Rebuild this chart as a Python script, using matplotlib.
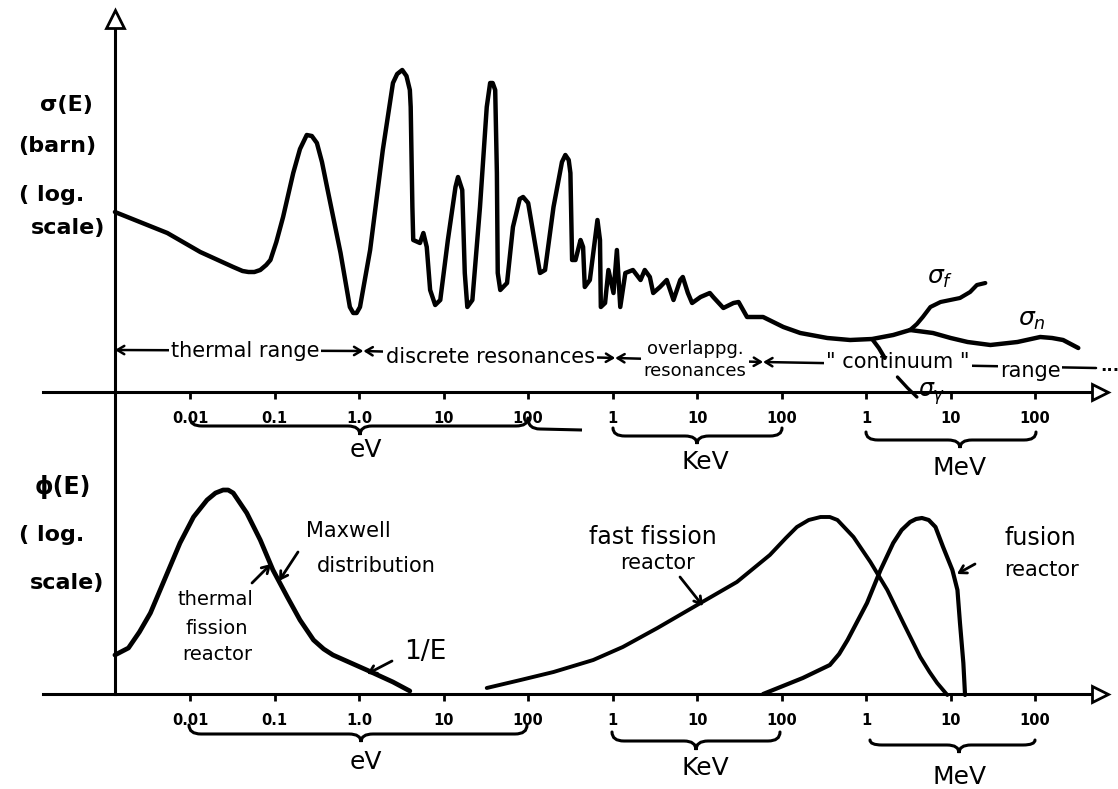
import numpy as np
import matplotlib
matplotlib.use("Agg")
import matplotlib.pyplot as plt
import matplotlib.transforms as mtransforms
from matplotlib.path import Path
from matplotlib.patches import PathPatch

# ---- values ----
# x: log10(E / eV), y: height above the energy axis (arbitrary log units)
sigma_total = [(-2.89, 180), (-2.27, 159), (-1.88, 140), (-1.49, 125), (-1.38, 121), (-1.31, 120),
               (-1.24, 120), (-1.17, 122), (-1.10, 127), (-1.05, 132), (-0.98, 150), (-0.90, 175),
               (-0.78, 219), (-0.70, 243), (-0.62, 257), (-0.56, 256), (-0.50, 249), (-0.44, 230),
               (-0.38, 205), (-0.22, 139), (-0.11, 85), (-0.07, 79), (-0.03, 79), (0.01, 85),
               (0.13, 142), (0.28, 242), (0.40, 309), (0.45, 318), (0.51, 322), (0.56, 316),
               (0.60, 302), (0.61, 285), (0.63, 185), (0.64, 152), (0.72, 149), (0.76, 159),
               (0.80, 145), (0.84, 102), (0.90, 87), (0.96, 92), (1.05, 152), (1.14, 205),
               (1.17, 215), (1.22, 202), (1.25, 119), (1.28, 85), (1.34, 92), (1.43, 185),
               (1.51, 285), (1.55, 309), (1.58, 309), (1.61, 302), (1.63, 219), (1.64, 119),
               (1.67, 102), (1.75, 109), (1.82, 165), (1.90, 193), (1.94, 195), (2.00, 189),
               (2.14, 119), (2.20, 122), (2.30, 185), (2.40, 230), (2.44, 237), (2.48, 232),
               (2.50, 219), (2.52, 132), (2.56, 132), (2.62, 152), (2.65, 145), (2.67, 105),
               (2.73, 112), (2.82, 172), (2.85, 152), (2.86, 85), (2.91, 89), (2.95, 122),
               (3.01, 99), (3.05, 142), (3.09, 85), (3.15, 119), (3.24, 122), (3.33, 112),
               (3.38, 122), (3.44, 115), (3.48, 99), (3.56, 105), (3.64, 112), (3.72, 92),
               (3.80, 112), (3.83, 115), (3.89, 99), (3.94, 89), (4.04, 95), (4.15, 99),
               (4.19, 95), (4.31, 84), (4.43, 89), (4.49, 90), (4.59, 75), (4.78, 75),
               (5.02, 65), (5.22, 59), (5.54, 54), (5.81, 52), (6.07, 53), (6.32, 57), (6.52, 62)]
sigma_n = [(6.52, 62), (6.79, 59), (7.00, 54), (7.20, 50), (7.47, 47), (7.79, 50), (8.06, 55),
           (8.20, 54), (8.33, 52), (8.51, 44)]
sigma_f = [(6.52, 62), (6.60, 68), (6.67, 75), (6.76, 85), (6.88, 90), (7.11, 94), (7.23, 100),
           (7.31, 107), (7.41, 109)]
sigma_g = [(6.07, 53), (6.15, 44), (6.22, 34)]
sigma_g_tail = [(6.37, 15), (6.49, 4), (6.60, -5)]

phi_thermal = [(-2.89, 39), (-2.73, 46), (-2.60, 62), (-2.47, 81), (-2.27, 121), (-2.12, 151),
               (-1.96, 177), (-1.80, 194), (-1.70, 201), (-1.61, 204), (-1.55, 204), (-1.49, 201),
               (-1.33, 181), (-1.17, 154), (-1.02, 124), (-0.85, 97), (-0.70, 74), (-0.54, 54),
               (-0.42, 45), (-0.31, 39), (0.09, 24), (0.40, 12), (0.60, 3)]
phi_fast = [(1.51, 6), (1.91, 14), (2.30, 22), (2.77, 34), (3.12, 47), (3.53, 66), (4.04, 91),
            (4.47, 112), (4.86, 139), (5.05, 156), (5.18, 167), (5.32, 174), (5.46, 177),
            (5.57, 177), (5.66, 174), (5.85, 157), (6.05, 132), (6.25, 104), (6.44, 71),
            (6.64, 37), (6.75, 22), (6.84, 11), (6.96, -1)]
phi_fusion = [(4.78, 0), (5.25, 16), (5.57, 29), (5.68, 40), (5.78, 54), (6.01, 91), (6.17, 124),
              (6.32, 151), (6.42, 164), (6.52, 172), (6.59, 175), (6.66, 176), (6.74, 174),
              (6.82, 167), (6.91, 147), (7.02, 124), (7.08, 104), (7.11, 71), (7.15, 31),
              (7.17, -1)]

tick_loge = np.arange(-2, 9)
tick_labels = ["0.01", "0.1", "1.0", "10", "100", "1", "10", "100", "1", "10", "100"]

range_bounds = [-2.89, 0.05, 3.03, 4.78, 8.72]   # log10(E/eV) of the range limits

# ---- figure / layout ----
W, H = 1118, 789
fig = plt.figure(figsize=(W / 100, H / 100), dpi=100)
fig.patch.set_facecolor("white")
sk = mtransforms.Affine2D().scale(1 / W, -1 / H).translate(0, 1) + fig.transFigure  # sketch pixels

AXIS_E = 10 ** -2.89
X_LEFT, X_RIGHT = -3.74, 8.77
XLIM = (10 ** -4.25, 10 ** 8.98)
INK = "black"


def setup(ax, ylim, ytop):
    ax.set_xscale("log")
    ax.set_xlim(*XLIM)
    ax.set_ylim(*ylim)
    ax.patch.set_visible(False)
    for s in ("top", "right"):
        ax.spines[s].set_visible(False)
    ax.spines["bottom"].set_position(("data", 0))
    ax.spines["bottom"].set_bounds(10 ** X_LEFT, 10 ** X_RIGHT)
    ax.spines["left"].set_position(("data", AXIS_E))
    ax.spines["left"].set_bounds(0, ytop)
    for s in ("bottom", "left"):
        ax.spines[s].set_linewidth(2.2)
    ax.set_yticks([])
    ax.set_xticks(10.0 ** tick_loge, tick_labels)
    ax.minorticks_off()
    ax.tick_params(axis="x", direction="out", length=5, width=2, pad=9, labelsize=10.5)
    for lab in ax.get_xticklabels():
        lab.set_fontweight("bold")
    ax.plot(10 ** X_RIGHT, 0, ">", ms=12, mfc="white", mec=INK, mew=2, clip_on=False, zorder=5)


def curve(ax, pts, lw=3.2):
    x, y = np.array(pts).T
    ax.plot(10 ** x, y, color=INK, lw=lw, solid_joinstyle="round", solid_capstyle="round",
            zorder=4, clip_on=False)


def txt(ax, x, y, s, size=15, **kw):
    ax.text(x, y, s, transform=sk, ha="center", va="center", fontsize=size, color=INK, **kw)


def arrow(ax, start, end, style="->"):
    ax.annotate("", xy=end, xytext=start, xycoords=sk, textcoords=sk, annotation_clip=False,
                arrowprops=dict(arrowstyle=style + ",head_length=0.5,head_width=0.3",
                                lw=2, color=INK, shrinkA=0, shrinkB=0))


def brace(x1, x2, xm, y_end, y_base, y_tip, r=12):
    verts = [(x1, y_end), (x1, y_base), (x1 + r, y_base),
             (xm - r, y_base), (xm, y_base), (xm, y_tip),
             (xm, y_base), (xm + r, y_base),
             (x2 - r, y_base), (x2, y_base), (x2, y_end)]
    codes = [Path.MOVETO, Path.CURVE3, Path.CURVE3, Path.LINETO, Path.CURVE3, Path.CURVE3,
             Path.CURVE3, Path.CURVE3, Path.LINETO, Path.CURVE3, Path.CURVE3]
    fig.add_artist(PathPatch(Path(verts, codes), transform=sk, fill=False, lw=2.2, ec=INK,
                             capstyle="round"))


ax_top = fig.add_axes([0, 1 - 392 / H, 1, 392 / H])
ax_bot = fig.add_axes([0, 0, 1, 397 / H])
setup(ax_top, (0, 392), 373)
setup(ax_bot, (-95, 302), 302)
ax_top.plot(AXIS_E, 373, "^", ms=13, mfc="white", mec=INK, mew=2, clip_on=False, zorder=5)

# ---- cross section panel ----
curve(ax_top, sigma_total)
curve(ax_top, sigma_n)
curve(ax_top, sigma_f, lw=3.0)
curve(ax_top, sigma_g, lw=3.0)
curve(ax_top, sigma_g_tail, lw=2.4)

txt(ax_top, 940, 278, r"$\sigma_f$", size=18)
txt(ax_top, 1032, 320, r"$\sigma_n$", size=18)
txt(ax_top, 932, 394, r"$\sigma_\gamma$", size=17)

bx = ax_top.transData
row_y = [350, 351, 358, 362, 368]
for i in range(3):
    a = (bx.transform((10 ** range_bounds[i], 0))[0], row_y[i])
    b = (bx.transform((10 ** range_bounds[i + 1], 0))[0], row_y[i + 1])
    ax_top.annotate("", xy=b, xytext=a, xycoords=sk, textcoords=sk, annotation_clip=False,
                    arrowprops=dict(arrowstyle="<->,head_length=0.5,head_width=0.3", lw=1.8,
                                    color=INK, shrinkA=0, shrinkB=0), zorder=2)
a = (bx.transform((10 ** range_bounds[3], 0))[0], row_y[3])
b = (bx.transform((10 ** range_bounds[4], 0))[0], row_y[4])
ax_top.annotate("", xy=a, xytext=b, xycoords=sk, textcoords=sk, annotation_clip=False,
                arrowprops=dict(arrowstyle="->,head_length=0.5,head_width=0.3", lw=1.8,
                                color=INK, shrinkA=0, shrinkB=0), zorder=2)

wb = dict(fc="white", ec="none", pad=1.5)
txt(ax_top, 245, 351, "thermal range", bbox=wb)
txt(ax_top, 490, 357, "discrete resonances", bbox=wb)
txt(ax_top, 695, 360, "overlappg.\nresonances", size=13, linespacing=1.35, bbox=wb)
txt(ax_top, 898, 362, '" continuum "', bbox=wb)
txt(ax_top, 1030, 371, "range", bbox=wb)
txt(ax_top, 1110, 366, "...", size=12, fontweight="bold")

txt(ax_top, 66, 105, "σ(E)", size=16, fontweight="bold")
txt(ax_top, 57, 146, "(barn)", size=16, fontweight="bold")
txt(ax_top, 52, 195, "( log.", size=16, fontweight="bold")
txt(ax_top, 68, 228, "scale)", size=16, fontweight="bold")

# ---- flux panel ----
curve(ax_bot, phi_thermal, lw=3.4)
curve(ax_bot, phi_fast, lw=2.8)
curve(ax_bot, phi_fusion, lw=3.0)

txt(ax_bot, 63, 487, "ϕ(E)", size=17, fontweight="bold")
txt(ax_bot, 52, 535, "( log.", size=16, fontweight="bold")
txt(ax_bot, 67, 583, "scale)", size=16, fontweight="bold")

txt(ax_bot, 348, 531, "Maxwell")
txt(ax_bot, 376, 566, "distribution")
txt(ax_bot, 215, 600, "thermal", size=14)
txt(ax_bot, 217, 629, "fission", size=14)
txt(ax_bot, 217, 655, "reactor", size=14)
txt(ax_bot, 425, 652, "1/E", size=19)
txt(ax_bot, 653, 537, "fast fission", size=17)
txt(ax_bot, 658, 563, "reactor", size=15)
txt(ax_bot, 1040, 538, "fusion", size=17)
txt(ax_bot, 1042, 570, "reactor", size=15)

arrow(ax_bot, (252, 583), (271, 564))
arrow(ax_bot, (298, 552), (279, 581))
arrow(ax_bot, (392, 661), (367, 674))
arrow(ax_bot, (680, 577), (703, 606))
arrow(ax_bot, (975, 564), (957, 574))

# ---- unit braces ----
brace(190, 528, 360, 418, 426, 435)
fig.add_artist(PathPatch(Path([(528, 418), (528, 429), (540, 429), (582, 430)],
                              [Path.MOVETO, Path.CURVE3, Path.CURVE3, Path.LINETO]),
                         transform=sk, fill=False, lw=2.2, ec=INK))
brace(613, 782, 697, 428, 436, 444)
brace(866, 1036, 960, 432, 440, 448)
brace(189, 527, 361, 725, 734, 742)
brace(612, 780, 696, 732, 741, 750)
brace(870, 1035, 959, 740, 745, 753)

for ax, ys in ((ax_top, (450, 462, 468)), (ax_bot, (762, 768, 777))):
    txt(ax, 366, ys[0], "eV", size=18)
    txt(ax, 705, ys[1], "KeV", size=18)
    txt(ax, 960, ys[2], "MeV", size=18)

fig.savefig("out.png", dpi=100)
